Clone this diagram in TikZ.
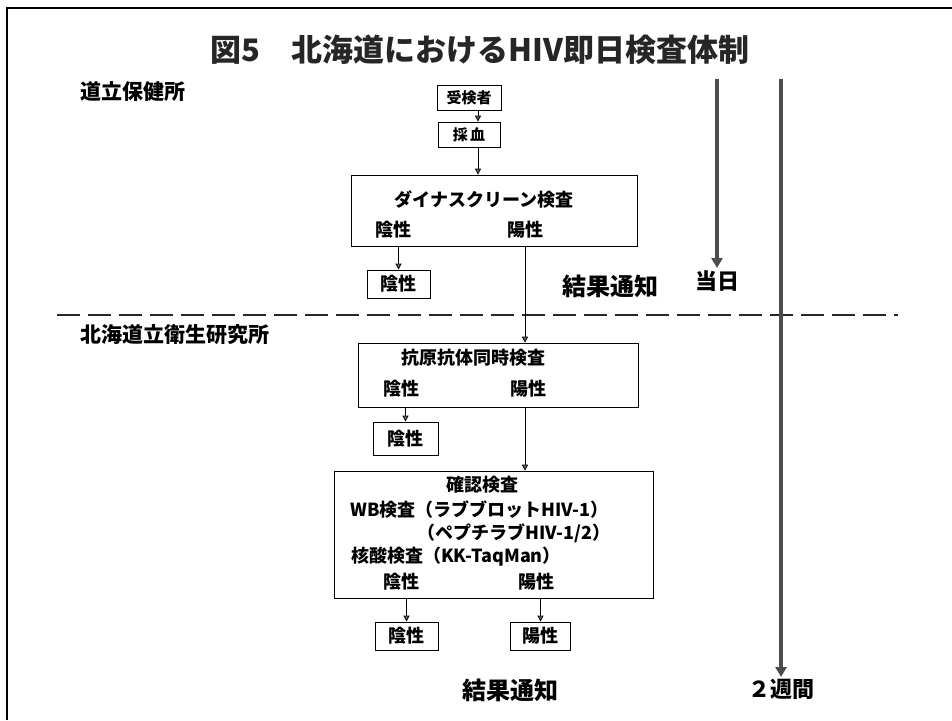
\documentclass[tikz,border=0pt]{standalone}
\usepackage{fontspec}
\setmainfont{Noto Sans CJK JP}
\usetikzlibrary{arrows.meta}
\begin{document}
\begin{tikzpicture}[x=1pt,y=-1pt,
  boxn/.style={draw, line width=0.8pt, inner sep=0pt},
  lbl/.style={font=\fontsize{18}{20}\selectfont\bfseries, inner sep=0pt},
  small/.style={font=\fontsize{15}{17}\selectfont\bfseries, inner sep=0pt},
  side/.style={font=\fontsize{21}{23}\selectfont\bfseries, inner sep=0pt, anchor=west},
  big/.style={font=\fontsize{24}{26}\selectfont\bfseries, inner sep=0pt},
  arr/.style={line width=0.8pt, -{Triangle[length=6pt, width=6pt, fill=black!60]}},
  tarr/.style={line width=3.5pt, draw=black!70, -{Triangle[length=10pt, width=11pt, fill=black!70]}},
  sep/.style={line width=2.4pt, draw=black!85, dash pattern=on 23pt off 8pt}
]
\useasboundingbox (0,0) rectangle (952,720);
% frame
\draw[line width=2pt] (7,720) -- (7,8) -- (952,8);
% title
\node[font=\fontsize{31}{33}\selectfont\bfseries, inner sep=0pt, text=black!85] (title) at (480,50) {図5　北海道におけるHIV即日検査体制};
% side labels
\node[side] (lab1) at (80,92) {道立保健所};
\node[side] (lab2) at (80,335) {北海道立衛生研究所};
% separator
\coordinate (sepL) at (57,315);
\coordinate (sepR) at (898,315);
\draw[sep] (sepL) -- (sepR);
% top boxes
\node[boxn, minimum width=64pt, minimum height=25pt, small] (jk) at (469,97.5) {受検者};
\node[boxn, minimum width=62pt, minimum height=25pt, small] (sk) at (469,134.5) {採\,血};
\node[boxn, minimum width=286pt, minimum height=71pt] (dyna) at (494,210.5) {};
\node[lbl] (dynat) at (484,200) {ダイナスクリーン検査};
\node[lbl] (dneg) at (393,230) {陰性};
\node[lbl] (dpos) at (525,230) {陽性};
\node[boxn, minimum width=63pt, minimum height=28pt, lbl] (neg1) at (398.5,284) {陰性};
% antigen box
\node[boxn, minimum width=280pt, minimum height=64pt] (ag) at (498,375) {};
\node[lbl] (agt) at (473,358) {抗原抗体同時検査};
\node[lbl] (aneg) at (401,389) {陰性};
\node[lbl] (apos) at (528,389) {陽性};
\node[boxn, minimum width=65pt, minimum height=33pt, lbl] (neg2) at (405.5,438.5) {陰性};
% confirm box
\node[boxn, minimum width=319pt, minimum height=127pt] (cf) at (493.5,534.5) {};
\node[lbl] (cft) at (482,485) {確認検査};
\node[lbl, anchor=west] (cf1) at (350,510) {WB検査（ラブブロットHIV-1）};
\node[lbl, anchor=west] (cf2) at (417,533) {（ペプチラブHIV-1/2）};
\node[lbl, anchor=west] (cf3) at (351,557) {核酸検査（KK-TaqMan）};
\node[lbl] (cneg) at (401,582) {陰性};
\node[lbl] (cpos) at (536,582) {陽性};
\node[boxn, minimum width=63pt, minimum height=28pt, lbl] (neg3) at (406.5,636) {陰性};
\node[boxn, minimum width=60pt, minimum height=28pt, lbl] (pos3) at (540.5,636) {陽性};
% result labels
\node[big] (res1) at (610,286) {結果通知};
\node[big] (res2) at (510,690) {結果通知};
% connectors
\draw[arr] ([xshift=9pt]jk.south) -- ([xshift=9pt]sk.north);
\draw[arr] ([xshift=9pt]sk.south) -- ([xshift=9pt]sk.south |- dyna.north);
\draw[arr] (dyna.south -| neg1.north) -- (neg1.north);
\draw[arr] (dyna.south -| dpos) -- (ag.north -| dpos);
\draw[arr] (ag.south -| neg2.north) -- (neg2.north);
\draw[arr] (ag.south -| dpos) -- (cf.north -| dpos);
\draw[arr] (cf.south -| neg3.north) -- (neg3.north);
\draw[arr] (cf.south -| pos3.north) -- (pos3.north);
% time arrows
\coordinate (t1) at (717,79);
\coordinate (t2) at (781,79);
\node[font=\fontsize{22}{24}\selectfont\bfseries, inner sep=2pt, anchor=north] (today) at (717,268) {当日};
\node[font=\fontsize{22}{24}\selectfont\bfseries, inner sep=2pt, anchor=north] (week) at (781,677) {２週間};
\draw[tarr] (t1) -- (today.north);
\draw[tarr] (t2) -- (week.north);
\end{tikzpicture}
\end{document}
